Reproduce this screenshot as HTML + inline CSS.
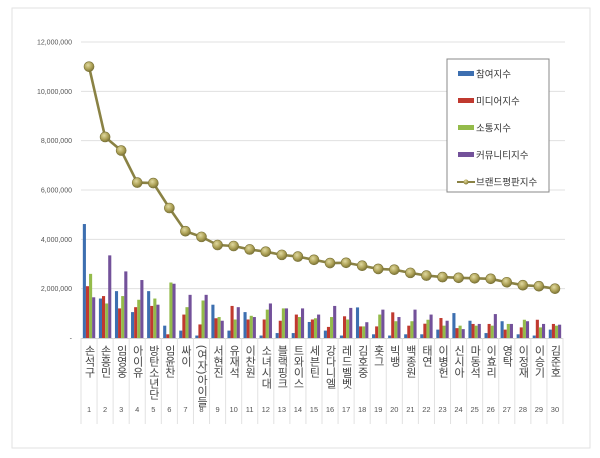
<!DOCTYPE html>
<html><head><meta charset="utf-8">
<style>
html,body{margin:0;padding:0;background:#fff;}
body{width:600px;height:453px;overflow:hidden;font-family:"Liberation Sans","Noto Sans CJK KR",sans-serif;}
svg text{font-family:"Liberation Sans","Noto Sans CJK KR",sans-serif;}
</style></head>
<body>
<svg id="chart" width="600" height="453" viewBox="0 0 600 453" xmlns="http://www.w3.org/2000/svg">
<defs>
<radialGradient id="dotg" cx="40%" cy="35%" r="65%">
<stop offset="0" stop-color="#e0d9a0"/><stop offset="0.6" stop-color="#aea257"/><stop offset="1" stop-color="#7d7538"/>
</radialGradient>
</defs>
<rect x="12" y="8" width="578" height="440" fill="#fff" stroke="#e2e2e2"/>
<g id="grid"></g>
<g id="bars"></g>
<g id="line"></g>
<g id="xlabels"></g>
<g id="legend">
<rect x="447" y="59" width="102" height="133" fill="#fff" stroke="#888"/>
</g>
</svg>
<script>
const categories=["손석구","손흥민","임영웅","아이유","방탄소년단","임윤찬","싸이","(여자)아이들","서현진","유재석","이찬원","소녀시대","블랙핑크","트와이스","세븐틴","강다니엘","레드벨벳","김호중","홋그","빅뱅","백종원","태연","이병헌","신시아","마동석","이효리","영탁","이정재","이승기","김준호"];
const participation=[4.62,1.6,1.9,1.05,1.9,0.5,0.3,0.1,1.35,0.3,1.05,0.1,0.2,0.2,0.65,0.3,0.1,1.24,0.15,0.1,0.15,0.15,0.34,1.01,0.7,0.2,0.68,0.15,0.1,0.34];
const media=[2.1,1.7,1.2,1.25,1.3,0.15,0.95,0.55,0.8,1.3,0.75,0.75,0.7,0.95,0.75,0.45,0.88,0.47,0.47,1.04,0.5,0.58,0.81,0.4,0.57,0.57,0.34,0.43,0.74,0.57];
const communication=[2.6,1.4,1.7,1.55,1.6,2.25,1.25,1.52,0.85,0.75,0.9,1.15,1.2,0.85,0.8,0.85,0.75,0.47,0.95,0.68,0.68,0.74,0.5,0.5,0.5,0.5,0.57,0.74,0.43,0.5];
const community=[1.65,3.35,2.7,2.35,1.35,2.2,1.75,1.75,0.7,1.25,0.85,1.4,1.2,1.2,0.95,1.3,1.22,0.64,1.15,0.85,1.15,0.95,0.7,0.36,0.57,0.97,0.57,0.68,0.57,0.54];
const brandIndex=[11.0,8.15,7.6,6.3,6.28,5.27,4.33,4.1,3.77,3.73,3.59,3.5,3.37,3.3,3.17,3.04,3.05,2.93,2.8,2.77,2.64,2.53,2.47,2.44,2.42,2.4,2.26,2.14,2.1,2.0];
const yTicks=[0,2,4,6,8,10,12];
const yTickLabels=["-","2,000,000","4,000,000","6,000,000","8,000,000","10,000,000","12,000,000"];
const seriesNames=["참여지수","미디어지수","소통지수","커뮤니티지수","브랜드평판지수"];
const seriesColors=["#3d6fb0","#c0392f","#94bb4a","#73519a","#8a8244"];

const NS="http://www.w3.org/2000/svg";
const X0=81,X1=563,Y0=338,YTOP=42;
const cw=(X1-X0)/categories.length;
const y=v=>Y0-(v/12)*(Y0-YTOP);
const xc=i=>X0+cw*(i+0.5);
function mk(tag,attrs,parent){const e=document.createElementNS(NS,tag);for(const k in attrs)e.setAttribute(k,attrs[k]);parent.appendChild(e);return e;}
const grid=document.getElementById('grid');
yTicks.forEach((t,i)=>{
  if(t>0){const l=mk('line',{x1:X0,x2:X1+2,y1:y(t),y2:y(t),stroke:'#e0e0e0','stroke-width':1},grid);
  
  }
  const tx=mk('text',{x:72,y:y(t)+2.5,'font-size':7,'text-anchor':'end',fill:'#555'},grid);
  tx.textContent=yTickLabels[i];
  
  
});
const bars=document.getElementById('bars');
const series=[participation,media,communication,community];
const bw=3.1;
series.forEach((s,si)=>{
  s.forEach((v,i)=>{
    const x=xc(i)-2*bw+si*bw;
    const r=mk('rect',{x:x,y:y(v),width:bw,height:Y0-y(v),fill:seriesColors[si]},bars);
    
    
  });
});
const xl=document.getElementById('xlabels');
const ax=mk('line',{x1:X0,x2:X1,y1:Y0+0.5,y2:Y0+0.5,stroke:'#d0d0d0'},xl);


for(let i=0;i<=categories.length;i++){
  const l=mk('line',{x1:X0+cw*i,x2:X0+cw*i,y1:Y0,y2:424,stroke:'#e2e2e2'},xl);
  
  
}
categories.forEach((c,i)=>{
  const t=mk('text',{x:xc(i),y:345,'font-size':11,fill:'#444','writing-mode':'tb','style':'writing-mode:vertical-rl;letter-spacing:0px'},xl);
  t.textContent=c;
  
  
  const n=mk('text',{x:xc(i),y:412,'font-size':7.5,'text-anchor':'middle',fill:'#555'},xl);
  n.textContent=String(i+1);
  
  
});
const lg=document.getElementById('line');
const pts=brandIndex.map((v,i)=>xc(i)+','+y(v)).join(' ');
const pl=mk('polyline',{points:pts,fill:'none',stroke:seriesColors[4],'stroke-width':2.6,'stroke-linejoin':'round'},lg);


brandIndex.forEach((v,i)=>{
  const c=mk('circle',{cx:xc(i),cy:y(v),r:5,fill:'url(#dotg)',stroke:'#7a7236','stroke-width':0.6},lg);
  
  
});
const leg=document.getElementById('legend');
seriesNames.forEach((n,i)=>{
  const yy=74+i*27;
  if(i<4){
    const r=mk('rect',{x:458,y:yy-3,width:16,height:5,fill:seriesColors[i]},leg);
    
    
  } else {
    const l=mk('line',{x1:457,x2:475,y1:yy,y2:yy,stroke:seriesColors[4],'stroke-width':2},leg);
    
    
    const c=mk('circle',{cx:466,cy:yy,r:2.5,fill:'url(#dotg)'},leg);
    
    
  }
  const t=mk('text',{x:476,y:yy+3.5,'font-size':9.5,fill:'#333'},leg);
  t.textContent=n;
  
  
});
</script>
</body></html>
